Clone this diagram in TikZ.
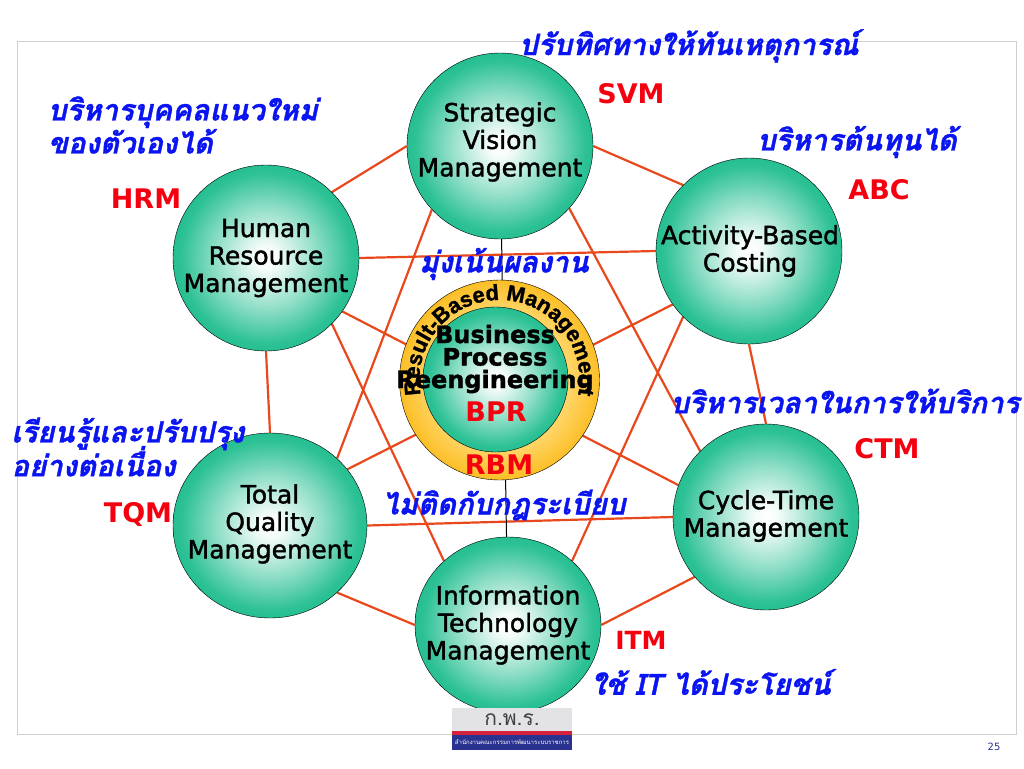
\documentclass[tikz,border=0pt]{standalone}
\usepackage{fontspec}
\setmainfont{DejaVu Sans}
\newfontfamily\ballfont[FakeBold=1.6]{DejaVu Sans}
\newfontfamily\thaifont[Script=Thai,BoldItalicFeatures={FakeBold=1.2}]{Loma}
\newfontfamily\arcfont[BoldFeatures={FakeBold=1.2}]{Liberation Sans}
\usetikzlibrary{backgrounds,decorations.text,shapes.geometric}
\definecolor{ballteal}{HTML}{22BE90}
\definecolor{linered}{HTML}{E8481C}
\definecolor{thaiblue}{HTML}{0A14F0}
\definecolor{labelred}{HTML}{F5000F}
\definecolor{framegray}{HTML}{CFCFCF}
\definecolor{logoblue}{HTML}{2A3290}
\definecolor{logored}{HTML}{D4213D}
\definecolor{logogray}{HTML}{E3E3E6}
\definecolor{ringgold}{HTML}{FBBB1C}
\definecolor{ringpale}{HTML}{FFD464}
\pgfdeclareradialshading{tealball}{\pgfpoint{0bp}{0bp}}{color(0bp)=(white); color(3bp)=(white!96!ballteal); color(14bp)=(ballteal!52!white); color(23bp)=(ballteal!95!white); color(26bp)=(ballteal); color(50bp)=(ballteal)}
\pgfdeclareradialshading{goldring}{\pgfpoint{0bp}{0bp}}{color(0bp)=(ringpale); color(18bp)=(ringpale); color(26bp)=(ringgold); color(50bp)=(ringgold)}
\begin{document}
\begin{tikzpicture}[x=1pt,y=-1pt]
    \tikzstyle{ball}=[ellipse,draw=black,shading=tealball,minimum width=186pt,minimum height=186pt,inner sep=0pt]
    \tikzstyle{balltext}=[inner sep=0pt,align=center,text=black,font=\ballfont\fontsize{25}{27.5}\selectfont]
    \tikzstyle{thailabel}=[text=thaiblue,align=left,inner sep=0pt,font=\thaifont\bfseries\itshape\fontsize{29.3}{33}\selectfont]
    \tikzstyle{redlabel}=[text=labelred,inner sep=0pt,font=\bfseries\fontsize{27}{28}\selectfont]
    \tikzstyle{spoke}=[draw=linered,line width=2.2pt]
    \useasboundingbox (0,0) rectangle (1024,768);
    \node[draw=framegray,line width=1pt,minimum width=999pt,minimum height=692pt,inner sep=0pt] (frame) at (516.5,388) {};

    \node[ball] (SVM) at (500,146) {};
    \node[ball] (ABC) at (749,251) {};
    \node[ball] (CTM) at (766,517) {};
    \node[ball,minimum height=176pt] (ITM) at (508,625) {};
    \node[ball,minimum width=194pt,minimum height=185pt] (TQM) at (270,525.5) {};
    \node[ball] (HRM) at (266,258) {};

    \node[circle,draw=black,shading=goldring,minimum size=200pt,inner sep=0pt] (RBM) at (499.5,380) {};
    \node[circle,draw=black,shading=tealball,minimum size=145pt,inner sep=0pt] (BPR) at (495.5,379.5) {};

    \begin{scope}[on background layer]
    \path[spoke] (SVM.west) edge (HRM.45)
            (SVM.east) edge (ABC.135)
            (ABC.south) edge (CTM.north)
            (CTM.220) edge (ITM.east)
            (ITM.west) edge (TQM.-45)
            (TQM.north) edge (HRM.south)
            (HRM.east) edge (ABC.west)
            (TQM.east) edge (CTM.west)
            (SVM.-137) edge (TQM.45)
            (SVM.-42) edge (CTM.135)
            (HRM.-45) edge (ITM.135)
            (ABC.-135) edge (ITM.45)
            (HRM.-35) edge (CTM.160)
            (TQM.36) edge (ABC.-145);
    \path[draw=black,line width=1pt] (SVM) edge (ITM);
    \end{scope}

    \node[balltext] (SVMtext) at (500,142) {Strategic\\Vision\\Management};
    \node[balltext] (ABCtext) at (750,251) {Activity-Based\\Costing};
    \node[balltext] (CTMtext) at (766,516) {Cycle-Time\\Management};
    \node[balltext] (ITMtext) at (508,625) {Information\\Technology\\Management};
    \node[balltext] (TQMtext) at (270,524) {Total\\Quality\\Management};
    \node[balltext] (HRMtext) at (266,258) {Human\\Resource\\Management};

    \path[decorate,decoration={text along path,text align=center,
        text={|\arcfont\fontsize{22}{22}\bfseries\selectfont|Result-Based Management}}]
        (424.3,407.4) arc[start angle=200,end angle=-20,radius=80pt];

    % center texts
    \node[inner sep=0pt,align=center,font=\ballfont\bfseries\fontsize{24}{22.5}\selectfont] (BPRtext) at (495,359) {Business\\Process\\Reengineering};
    \node[redlabel] (BPRlabel) at (496,412) {BPR};
    \node[redlabel] (RBMlabel) at (499,465) {RBM};

    \node[redlabel] (SVMlabel) at (631,94) {SVM};
    \node[redlabel] (ABClabel) at (879,190) {ABC};
    \node[redlabel] (CTMlabel) at (887,449) {CTM};
    \node[redlabel,font=\bfseries\fontsize{25}{26}\selectfont] (ITMlabel) at (641,640) {ITM};
    \node[redlabel] (TQMlabel) at (138,514) {TQM};
    \node[redlabel] (HRMlabel) at (146,199) {HRM};

    \node[thailabel] (t1) at (689,46) {ปรับทิศทางให้ทันเหตุการณ์};
    \node[thailabel] (t2) at (183,125) {บริหารบุคคลแนวใหม่\\ของตัวเองได้};
    \node[thailabel] (t3) at (857,142) {บริหารต้นทุนได้};
    \node[thailabel] (t4) at (504,264) {มุ่งเน้นผลงาน};
    \node[thailabel] (t5) at (845,401) {บริหารเวลาในการให้บริการ};
    \node[thailabel] (t6) at (128,447) {เรียนรู้และปรับปรุง\\[-5pt]อย่างต่อเนื่อง};
    \node[thailabel] (t7) at (504,505) {ไม่ติดกับกฎระเบียบ};
    \node[thailabel] (t8) at (711,682) {ใช้ IT ได้ประโยชน์};

    % logo
    \node[fill=logogray,minimum width=120pt,minimum height=23pt,inner sep=0pt,font=\thaifont\fontsize{21}{21}\selectfont,text=black!75] (logotop) at (512,719.5) {ก.พ.ร.};
    \node[fill=logored,minimum width=120pt,minimum height=4pt,inner sep=0pt] (logomid) at (512,733) {};
    \node[fill=logoblue,minimum width=120pt,minimum height=15pt,inner sep=0pt,font=\thaifont\fontsize{6}{6}\selectfont,text=white] (logobot) at (512,742.5) {สำนักงานคณะกรรมการพัฒนาระบบราชการ};
    \node[text=logoblue,inner sep=0pt,font=\fontsize{10}{10}\selectfont] (pagenum) at (994,747) {25};
\end{tikzpicture}
\end{document}
